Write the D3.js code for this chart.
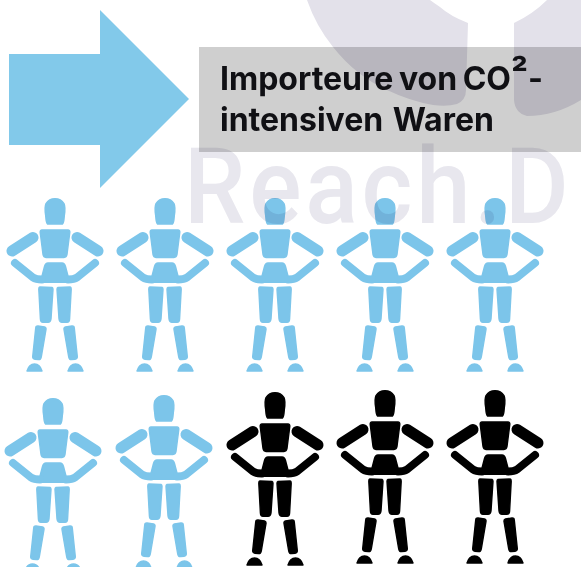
<!DOCTYPE html>
<html lang="de">

<head>
    <title>Importeure von CO²-intensiven Waren</title>
    <meta charset="utf-8">
    <script src="https://d3js.org/d3.v7.min.js"></script>
    <style>
        html, body { margin: 0; padding: 0; background: #fff; overflow: hidden; }
        svg { display: block; filter: blur(0.4px); }
        .multiply { mix-blend-mode: multiply; }
    </style>
</head>

<body>
    <div id="container"></div>
    <script>
        // Chart data: 7 of 10 figures are blue, 3 are black
        const rows = [0, 1];
        const columns = [0, 1, 2, 3, 4];
        const groups = ["importeur", "importeur", "importeur", "importeur", "importeur",
            "importeur", "importeur", "rest", "rest", "rest"];
        const titleLines = [["Importeure von CO", "²", "-"], ["intensiven Waren"]];
        const watermark = "Reach.D";

        const width = 581;
        const height = 567;
        const blue = "#7cc5ea";
        const color = d3.scaleOrdinal().domain(["importeur", "rest"]).range([blue, "#000"]);

        const svg = d3.select("#container")
            .append("svg")
            .attr("width", width)
            .attr("height", height);

        const xScale = d3.scalePoint().domain(columns).range([55, 495]);
        const yScale = d3.scalePoint().domain(rows).range([198, 390]);

        // Second row was not placed very evenly in the original
        const nudge = [[0, 0], [0, 0], [0, 0], [0, 0], [0, 0], [-2, 8], [-1, 5], [0, 2], [0, 0], [0, 0]];

        const people = groups.map((group, i) => ({
            group,
            x: xScale(i % columns.length) + nudge[i][0],
            y: yScale(Math.floor(i / columns.length)) + nudge[i][1]
        }));

        // Arrow
        const line = d3.line();
        svg.append("path")
            .attr("d", line([[9, 54], [100, 54], [100, 10], [189, 99], [100, 188], [100, 145], [9, 145]]) + "Z")
            .attr("fill", "#82c9ea");

        // Figure, x = 0 is the middle of the body, y = 0 the top of the head
        const body = [
            // head
            "M-7.5,26 Q-8.8,25.5 -9.3,18 Q-10.7,9 -9,5.5 Q-6,0.7 0,0.7 Q6,0.7 9,5.5 Q10.7,9 9.3,18 Q8.8,25.5 7.5,26 Z",
            // torso
            "M-13,32 L13,32 Q15,32 14.8,34.5 L12,56.5 Q11.5,59.5 9,59.5 L-9,59.5 Q-11.5,59.5 -12,56.5 L-14.8,34.5 Q-15,32 -13,32 Z",
            // pelvis
            "M-7,65 L7,65 Q9.5,65 10.5,68.5 L13.5,80 Q14,84.3 10,84.3 L-10,84.3 Q-14,84.3 -13.5,80 L-10.5,68.5 Q-9.5,65 -7,65 Z"
        ];
        const limbs = [
            // thigh, shin
            "M-15,89 L-3,89.5 Q-1.9,90 -2,91.5 L-4,121 Q-4.5,124.3 -7,124.3 L-12,124.3 Q-14.5,124.3 -14.6,121 L-16.2,91.5 Q-16.2,89 -15,89 Z",
            "M-17,128 L-10.5,129 Q-8.7,129.5 -9,131.5 L-13.7,159 Q-14.2,162 -16.7,161.5 L-20,161.2 Q-22.5,160.8 -22.3,158.5 L-19.3,130 Q-19.1,127.8 -17,128 Z",
            // foot
            "M-28,173 Q-26,166 -20.5,166 Q-15,166 -13,173 Z"
        ];

        const figures = svg.selectAll("g.figure")
            .data(people)
            .join("g")
            .attr("class", "figure")
            .attr("transform", d => `translate(${d.x},${d.y})`)
            .attr("fill", d => color(d.group))
            .attr("stroke", d => color(d.group))
            .attr("stroke-linejoin", "round");

        figures.selectAll("path.part")
            .data(body)
            .join("path")
            .attr("class", "part")
            .attr("stroke-width", 1.4)
            .attr("d", d => d);

        // Both sides are the same, the right one is mirrored
        [1, -1].forEach(side => {
            const half = figures.append("g").attr("transform", `scale(${side},1)`);

            half.selectAll("path.limb")
                .data(limbs)
                .join("path")
                .attr("class", "limb")
                .attr("stroke-width", 1.4)
                .attr("d", d => d);

            half.append("path")
                .attr("d", "M-22,39.5 L-43,53")
                .attr("fill", "none")
                .attr("stroke-width", 11)
                .attr("stroke-linecap", "round");

            half.append("path")
                .attr("d", "M-40,65 L-22,79.5 Q-19,81.5 -13,81.5")
                .attr("fill", "none")
                .attr("stroke-width", 8)
                .attr("stroke-linecap", "round");
        });

        // Watermark behind the picture, shows through
        const mark = svg.append("g")
            .attr("class", "multiply")
            .attr("fill", "#e3e1ea");

        mark.append("path")
            .attr("d", "M307,0 Q316,26 333,47 Q356,76 387,90 Q410,101 433,105 Q447,107 457,104 Q466,100 466,90 L468,23 Q450,16 440,7 Q434,3 430,0 Z");

        mark.append("path")
            .attr("d", "M547,0 Q533,14 514,23 L514,100 Q515,113 527,116 Q555,116 581,100 L581,0 Z");

        mark.append("text")
            .attr("transform", "translate(184,223) scale(0.93,1)")
            .attr("font-family", "Roboto")
            .attr("font-weight", 500)
            .attr("font-size", 105)
            .attr("letter-spacing", 4)
            .attr("fill", "#e8e7ee")
            .text(watermark);

        // Title box
        svg.append("rect")
            .attr("class", "multiply")
            .attr("x", 199)
            .attr("y", 47)
            .attr("width", width - 199)
            .attr("height", 105)
            .attr("fill", "#cfcfcf");

        const title = svg.selectAll("text.title")
            .data(titleLines)
            .join("text")
            .attr("class", "title")
            .attr("x", 220)
            .attr("y", (d, i) => 90 + i * 41)
            .attr("font-family", "Inter")
            .attr("font-size", 32)
            .attr("font-weight", 700)
            .attr("word-spacing", (d, i) => i === 0 ? -2 : 2)
            .attr("fill", "#101014");

        title.selectAll("tspan")
            .data(d => d)
            .join("tspan")
            .attr("font-size", d => d === "²" ? 37 : null)
            .attr("dy", d => d === "²" ? -3 : d === "-" ? 3 : null)
            .text(d => d);
    </script>
</body>

</html>
